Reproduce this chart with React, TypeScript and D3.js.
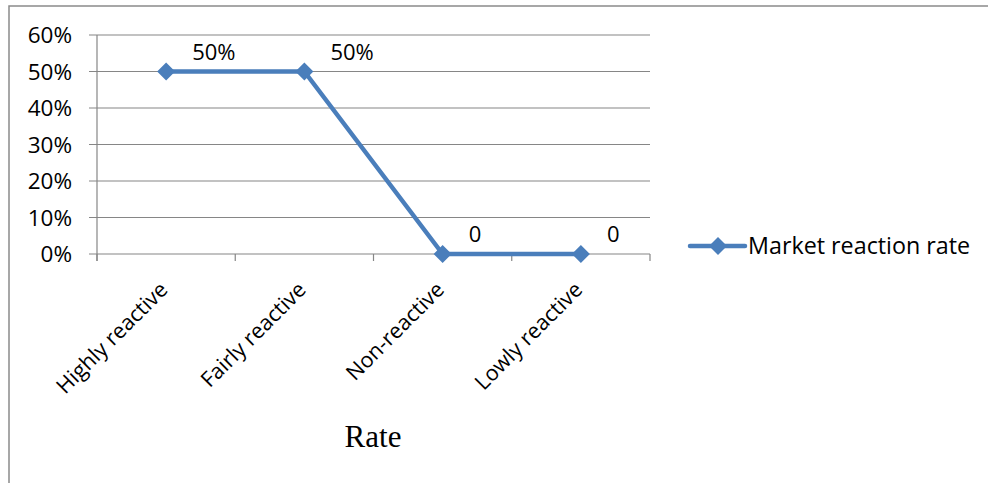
import React from "react";
import * as d3 from "d3";

const categories = ["Highly reactive", "Fairly reactive", "Non-reactive", "Lowly reactive"];
const values = [0.5, 0.5, 0, 0];
const valueLabels = ["50%", "50%", "0", "0"];
const yTicks = [0, 0.1, 0.2, 0.3, 0.4, 0.5, 0.6];
const seriesName = "Market reaction rate";
const axisTitle = "Rate";

const W = 988;
const H = 483;
const plot = { left: 97, right: 650, top: 35, bottom: 254 };
const LINE = "#4a7ebb";
const GRID = "#868686";
const FONT = "'Open Sans', 'Noto Sans', sans-serif";

// square diamond marker, r = half diagonal
const diamondPath = (r: number) => {
  const p = d3.path();
  p.moveTo(0, -r);
  p.lineTo(r, 0);
  p.lineTo(0, r);
  p.lineTo(-r, 0);
  p.closePath();
  return p.toString();
};

export default function App() {
  const x = d3.scaleBand<string>().domain(categories).range([plot.left, plot.right]);
  const y = d3.scaleLinear().domain([0, 0.6]).range([plot.bottom, plot.top]);
  const cx = (c: string) => (x(c) as number) + x.bandwidth() / 2;
  const fmt = d3.format(".0%");

  const line = d3
    .line<number>()
    .x((_, i) => cx(categories[i]))
    .y((v) => y(v));

  const marker = diamondPath(9);
  const catEdges = [...categories.map((c) => x(c) as number), plot.right];

  return (
    <svg
      width={W}
      height={H}
      style={{ position: "absolute", left: 0, top: 0, background: "#fff" }}
    >
      <rect x={9} y={6} width={W + 20} height={H + 20} fill="#fff" stroke="#8a8a8a" strokeWidth={1.5} />

      {/* horizontal gridlines with left tick marks */}
      {yTicks.map((t) => (
        <g key={t}>
          <line x1={plot.left - 8} x2={plot.right} y1={y(t)} y2={y(t)} stroke={GRID} strokeWidth={1.2} />
          <text
            x={plot.left - 25}
            y={y(t)}
            dy="0.36em"
            textAnchor="end"
            fontFamily={FONT}
            fontSize={22.5}
            fill="#000"
          >
            {fmt(t)}
          </text>
        </g>
      ))}

      {/* value axis */}
      <line x1={plot.left} x2={plot.left} y1={plot.top} y2={plot.bottom + 7} stroke={GRID} strokeWidth={1.2} />

      {/* category tick marks */}
      {catEdges.map((e, i) => (
        <line key={i} x1={e} x2={e} y1={plot.bottom} y2={plot.bottom + 7} stroke={GRID} strokeWidth={1.2} />
      ))}

      {/* category labels */}
      {categories.map((c) => (
        <text
          key={c}
          transform={`translate(${cx(c) + 3},${plot.bottom + 37}) rotate(-45)`}
          textAnchor="end"
          fontFamily={FONT}
          fontSize={21.5}
          fill="#000"
        >
          {c}
        </text>
      ))}

      {/* series line */}
      <path d={line(values) as string} fill="none" stroke={LINE} strokeWidth={4.5} strokeLinejoin="round" />
      {values.map((v, i) => (
        <path key={i} d={marker} transform={`translate(${cx(categories[i])},${y(v)})`} fill={LINE} />
      ))}

      {/* data labels */}
      {values.map((v, i) => (
        <text
          key={i}
          x={cx(categories[i]) + 26}
          y={y(v) - 12}
          fontFamily={FONT}
          fontSize={22}
          fill="#000"
        >
          {valueLabels[i]}
        </text>
      ))}

      {/* legend */}
      <g transform="translate(690,246)">
        <line x1={0} x2={55} y1={0} y2={0} stroke={LINE} strokeWidth={4.5} strokeLinecap="round" />
        <path d={marker} transform="translate(28,0)" fill={LINE} />
        <text x={58} y={0} dy="0.36em" fontFamily={FONT} fontSize={23.3} fill="#000">
          {seriesName}
        </text>
      </g>

      {/* axis title */}
      <text x={373} y={447} textAnchor="middle" fontFamily="'Liberation Serif', 'Times New Roman', serif" fontSize={31} fill="#000">
        {axisTitle}
      </text>
    </svg>
  );
}
